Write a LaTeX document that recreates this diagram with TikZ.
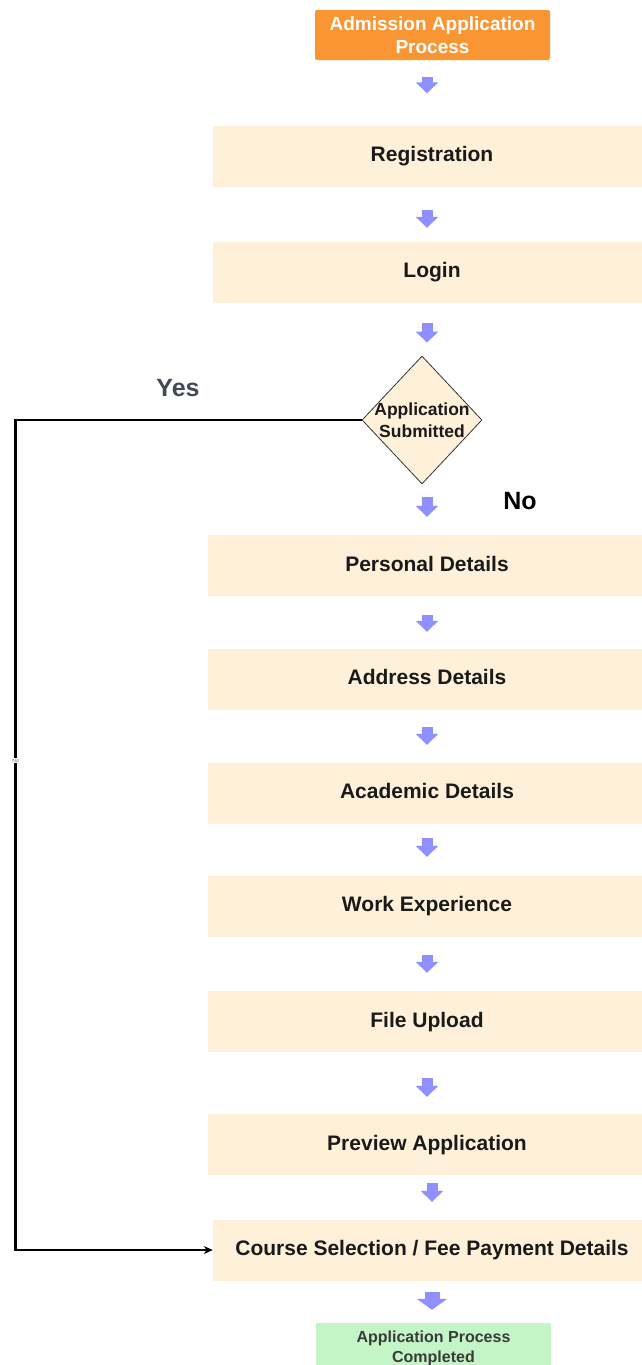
\documentclass[tikz,border=0pt]{standalone}
\usepackage{fontspec}
\setmainfont{Liberation Sans}
\usetikzlibrary{shapes.geometric,arrows.meta,calc}
\definecolor{cream}{HTML}{FFF1D9}
\definecolor{orangebox}{HTML}{F99532}
\definecolor{greenbox}{HTML}{C4F5C6}
\definecolor{arrowblue}{HTML}{8F8FFF}
\definecolor{yesgray}{HTML}{434955}
\definecolor{txtdark}{HTML}{1A1A1A}
\definecolor{donetext}{HTML}{3A3A3A}
\begin{document}
\begin{tikzpicture}[x=1pt,y=-1pt,
  stepbox/.style={fill=cream, minimum width=438pt, minimum height=61pt, inner sep=0pt,
    text height=15pt, text depth=4pt, text=txtdark,
    font=\bfseries\fontsize{21}{25}\selectfont},
  titlebox/.style={fill=orangebox, rounded corners=2pt, minimum width=235pt, minimum height=50pt,
    inner sep=0pt, text=white, align=center, font=\bfseries\fontsize{19}{23}\selectfont},
  endbox/.style={fill=greenbox, minimum width=235pt, minimum height=50pt,
    inner sep=0pt, text=donetext, align=center, font=\bfseries\fontsize{16}{20}\selectfont},
  decision/.style={diamond, draw=black!80, line width=0.8pt, fill=cream,
    minimum width=120pt, minimum height=128pt, inner sep=0pt},
  dectext/.style={align=center, text=txtdark, font=\bfseries\fontsize{17.5}{22}\selectfont},
  blk/.style={draw=arrowblue, line width=11pt, line cap=butt,
    -{Triangle[length=11pt,width=22pt]}},
  bigblk/.style={draw=arrowblue, line width=15pt, line cap=butt,
    -{Triangle[length=11pt,width=30pt]}},
  conn/.style={draw=black, line width=2.4pt, -{Stealth[length=9pt,width=8pt]}},
  branch/.style={font=\bfseries\fontsize{25}{28}\selectfont}
]
\useasboundingbox (0,0) rectangle (641,1365);
\fill[white] (0,0) rectangle (641,1365);

% nodes
\node[titlebox] (title) at (432.5,35) {Admission Application\\Process};
\node[stepbox] (reg) at (432,156) {Registration};
\node[stepbox] (login) at (432,272) {Login};
\node[decision] (dec) at (422,420)
  {};
\node[dectext] (dect) at (dec.center) {Application\\Submitted};
\node[stepbox] (pers) at (427,565.5) {Personal Details};
\node[stepbox] (addr) at (427,679) {Address Details};
\node[stepbox] (acad) at (427,793) {Academic Details};
\node[stepbox] (work) at (427,906) {Work Experience};
\node[stepbox] (file) at (427,1021.5) {File Upload};
\node[stepbox] (prev) at (427,1144.5) {Preview Application};
\node[stepbox] (course) at (432,1250) {Course Selection / Fee Payment Details};
\node[endbox] (done) at (433.5,1348) {Application Process\\Completed};

% branch labels
\node[branch, text=yesgray] (yes) at (178,388) {Yes};
\node[branch, text=black] (no) at (520,501) {No};

% block arrows
\draw[blk, shorten <=17pt, shorten >=32pt] (title.south -| pers.north) -- (reg.north -| pers.north);
\draw[blk, shorten <=23.5pt, shorten >=13.5pt] (reg.south -| pers.north) -- (login.north -| pers.north);
\draw[blk, shorten <=20.5pt, shorten >=13pt] (login.south -| pers.north) -- (dec.north -| pers.north);
\draw[blk, shorten <=13pt, shorten >=18pt] (dec.south -| pers.north) -- (pers.north);
\draw[blk, shorten <=19pt, shorten >=16.5pt] (pers.south) -- (addr.north);
\draw[blk, shorten <=17.5pt, shorten >=17.5pt] (addr.south) -- (acad.north);
\draw[blk, shorten <=14.5pt, shorten >=18.5pt] (acad.south) -- (work.north);
\draw[blk, shorten <=18.5pt, shorten >=18pt] (work.south) -- (file.north);
\draw[blk, shorten <=26pt, shorten >=17pt] (file.south) -- (prev.north);
\draw[blk, shorten <=8pt, shorten >=17.5pt] (prev.south -| course.north) -- (course.north);
\draw[bigblk, shorten <=11.5pt, shorten >=13pt] (course.south) -- (done.north -| course.south);

% yes branch
\draw[conn] (dec.west) -- ++(-346,0) |- (course.west)
  node[pos=0.205, fill=white, inner sep=0.6pt, text=black!55, font=\fontsize{5}{5}\selectfont] (nolbl) {No};
\end{tikzpicture}
\end{document}
